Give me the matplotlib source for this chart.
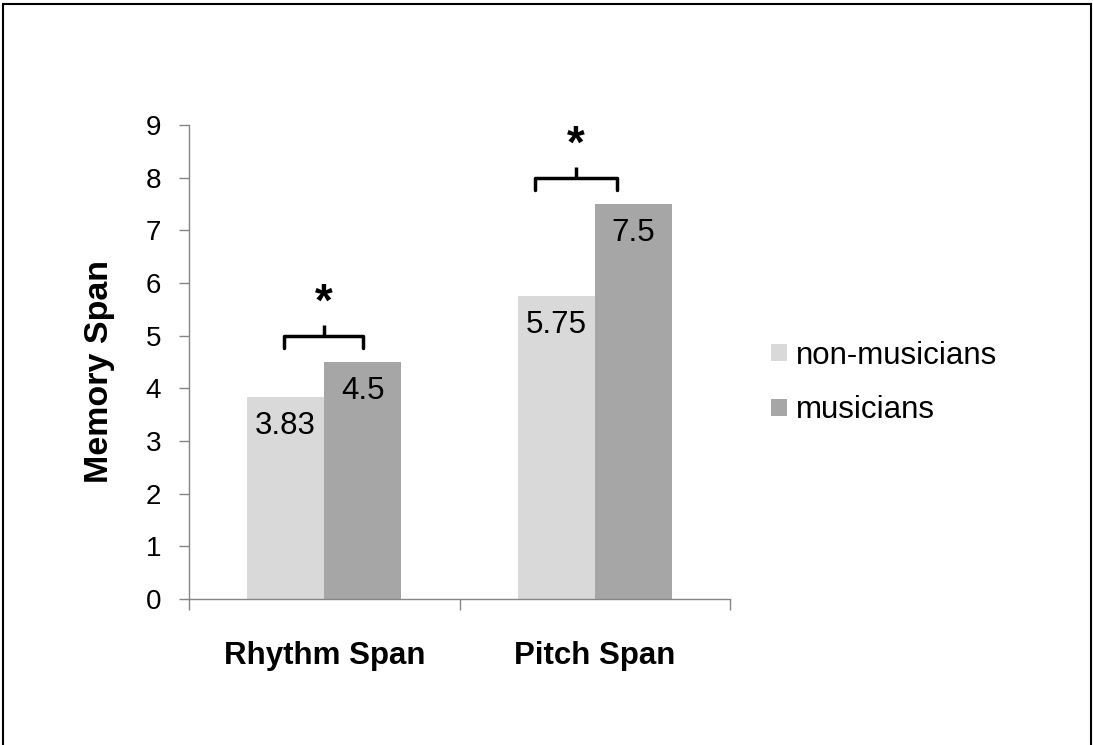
import matplotlib
import numpy as np
from matplotlib import pyplot as plt
from matplotlib.patches import Rectangle

matplotlib.use("Agg")

# データ
categories = ["Rhythm Span", "Pitch Span"]
groups = ["non-musicians", "musicians"]
non_musicians = [3.83, 5.75]
musicians = [4.5, 7.5]
value_labels = [["3.83", "5.75"], ["4.5", "7.5"]]
y_ticks = list(range(0, 10))

colors = ["#D9D9D9", "#A6A6A6"]
axis_color = "#868686"

plt.rcParams["font.family"] = ["Liberation Sans", "DejaVu Sans"]

fig = plt.figure(figsize=(10.93, 7.45), dpi=100)
ax = fig.add_axes([189 / 1093, 1 - 599 / 745, 541 / 1093, 474 / 745])

x = np.arange(len(categories))
width = 0.285
series = [non_musicians, musicians]
for i, (vals, name) in enumerate(zip(series, groups)):
    pos = x + (i - 0.5) * width
    bars = ax.bar(pos, vals, width=width, color=colors[i], label=name, zorder=2)
    for b, lab in zip(bars, value_labels[i]):
        ax.annotate(
            lab,
            (b.get_x() + b.get_width() / 2, b.get_height()),
            xytext=(0, -21),
            textcoords="offset points",
            ha="center",
            va="center",
            fontsize=22.5,
            color="black",
        )


# 有意差の括弧（*）
def bracket(x1, x2, y, drop=0.23, rise=0.2):
    xm = (x1 + x2) / 2
    ax.plot(
        [x1, x1, x2, x2],
        [y - drop, y, y, y - drop],
        color="black",
        lw=2.5,
        solid_joinstyle="round",
        solid_capstyle="round",
        clip_on=False,
    )
    ax.plot([xm, xm], [y, y + rise], color="black", lw=2.5, solid_capstyle="butt", clip_on=False)
    ax.text(xm, y + 0.6, "*", ha="center", va="center", fontsize=33, fontweight="bold")


bracket(-0.148, 0.145, 5.0)
bracket(0.78, 1.082, 8.0)

ax.set_xlim(-0.5, 1.5)
ax.set_ylim(0, 9)
ax.set_yticks(y_ticks)
ax.set_xticks(x)
ax.set_xticklabels(categories, fontsize=22.5, fontweight="bold")
ax.set_xticks([-0.5, 0.5, 1.5], minor=True)
ax.tick_params(axis="x", which="major", length=0, pad=30)
ax.tick_params(axis="x", which="minor", length=8, color=axis_color, width=1)
ax.tick_params(axis="y", length=7, color=axis_color, width=1, labelsize=20, pad=13)

for s in ["top", "right"]:
    ax.spines[s].set_visible(False)
for s in ["left", "bottom"]:
    ax.spines[s].set_color(axis_color)
    ax.spines[s].set_linewidth(1)

ax.set_ylabel("Memory Span", fontsize=24.5, fontweight="bold")
ax.yaxis.set_label_coords(-0.137, 0.48)

fig.legend(
    loc="center left",
    bbox_to_anchor=(771 / 1093, 1 - 383 / 745),
    frameon=False,
    fontsize=22.5,
    handlelength=0.5,
    handleheight=0.5,
    handletextpad=0.3,
    labelspacing=0.8,
    borderpad=0,
    borderaxespad=0,
)

# 外枠
fig.patches.append(
    Rectangle(
        (2.5 / 1093, -0.05),
        1 - 4.5 / 1093,
        1.05 - 3.5 / 745,
        transform=fig.transFigure,
        fill=False,
        edgecolor="black",
        lw=1.5,
    )
)

plt.savefig("out.png", dpi=100)
